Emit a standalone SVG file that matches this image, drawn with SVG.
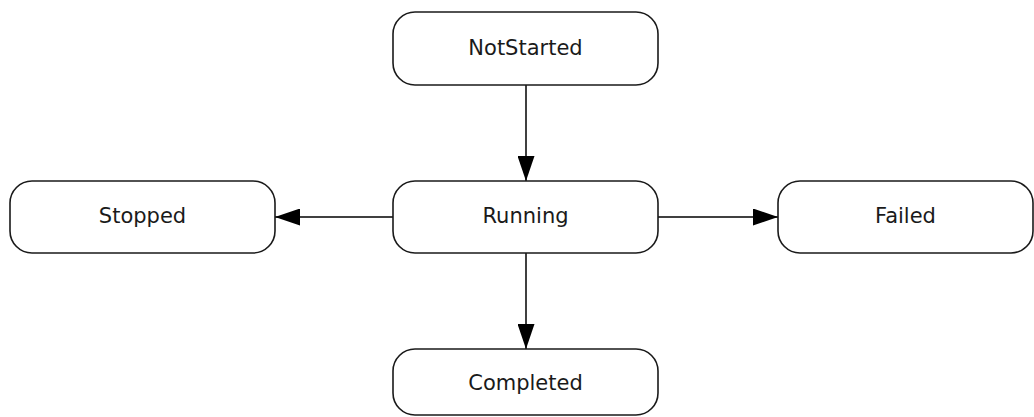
<svg xmlns="http://www.w3.org/2000/svg" width="1034" height="417" viewBox="0 0 1034 417">
<style>
.node rect{fill:#fff;stroke:#1a1a1a;stroke-width:1.6}
.node text{font-family:"DejaVu Sans",Verdana,sans-serif;font-size:21px;fill:#1a1a1a;text-anchor:middle;dominant-baseline:central}
.edge{stroke:#000;stroke-width:1.5;fill:none;marker-end:url(#arr)}
</style>
<defs>
<marker id="arr" viewBox="0 0 25 17" refX="25" refY="8.5" markerWidth="25" markerHeight="17" markerUnits="userSpaceOnUse" orient="auto">
<path d="M0,0 L25,8.5 L0,17 Z" fill="#000"/>
</marker>
</defs>
<rect width="1034" height="417" fill="#fff"/>
<g id="connectors">
<line class="edge" x1="526" y1="85" x2="526" y2="181"/>
<line class="edge" x1="393" y1="217" x2="275" y2="217"/>
<line class="edge" x1="658" y1="217" x2="778" y2="217"/>
<line class="edge" x1="526" y1="253" x2="526" y2="349"/>
</g>
<g id="NotStarted" class="node"><rect x="393" y="12" width="265" height="73" rx="22"/><text x="525.5" y="47.5">NotStarted</text></g>
<g id="Stopped" class="node"><rect x="10" y="181" width="265" height="72" rx="22"/><text x="142.5" y="216">Stopped</text></g>
<g id="Running" class="node"><rect x="393" y="181" width="265" height="72" rx="22"/><text x="525.5" y="216">Running</text></g>
<g id="Failed" class="node"><rect x="778" y="181" width="255" height="72" rx="22"/><text x="905.5" y="216">Failed</text></g>
<g id="Completed" class="node"><rect x="393" y="349" width="265" height="66" rx="22"/><text x="525.5" y="383">Completed</text></g>
</svg>
